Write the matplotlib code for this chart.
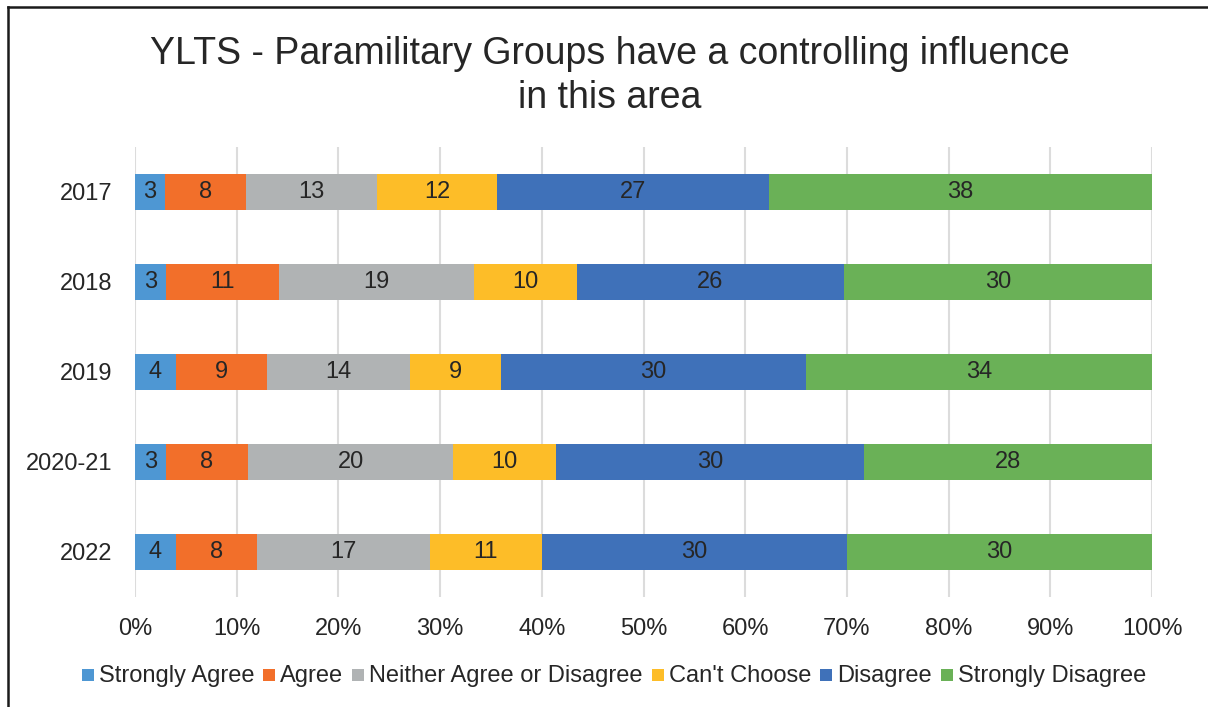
import matplotlib.pyplot as plt
import numpy as np
from matplotlib.lines import Line2D
from matplotlib.patches import Rectangle

plt.rcParams["font.family"] = ["Liberation Sans", "DejaVu Sans"]

# Survey responses (counts / percentages as printed on the bars)
years = ["2017", "2018", "2019", "2020-21", "2022"]
categories = ["Strongly Agree", "Agree", "Neither Agree or Disagree",
              "Can't Choose", "Disagree", "Strongly Disagree"]
strongly_agree = [3, 3, 4, 3, 4]
agree = [8, 11, 9, 8, 8]
neither = [13, 19, 14, 20, 17]
cant_choose = [12, 10, 9, 10, 11]
disagree = [27, 26, 30, 30, 30]
strongly_disagree = [38, 30, 34, 28, 30]

colors = ["#4E97D3", "#F26F2A", "#B0B3B4", "#FDBD28", "#3F71B9", "#6AB157"]
text_color = "#262626"

series = np.array([strongly_agree, agree, neither, cant_choose,
                   disagree, strongly_disagree], dtype=float)
shares = series / series.sum(axis=0)  # 100% stacked

W, H = 1208, 707
fig = plt.figure(figsize=(W / 100, H / 100), dpi=100)
fig.patch.set_facecolor("white")
ax = fig.add_axes([135 / W, 1 - 597 / H, 1017 / W, 450 / H])

y = np.arange(len(years))
left = np.zeros(len(years))
for i, cat in enumerate(categories):
    bars = ax.barh(y, shares[i], left=left, height=0.4, color=colors[i],
                   label=cat, zorder=3)
    ax.bar_label(bars, labels=[f"{int(v)}" for v in series[i]],
                 label_type="center", fontsize=17, color=text_color)
    left += shares[i]

ax.set_xlim(0, 1)
ax.set_ylim(len(years) - 0.5, -0.5)
ax.set_yticks(y)
ax.set_yticklabels(years)
ax.set_xticks(np.linspace(0, 1, 11))
ax.set_xticklabels([f"{int(round(t * 100))}%" for t in np.linspace(0, 1, 11)])
ax.tick_params(axis="both", length=0, labelsize=17, colors=text_color)
ax.tick_params(axis="y", pad=16)
ax.tick_params(axis="x", pad=15)
ax.grid(axis="x", color="#DCDCDC", linewidth=1.5, zorder=0)
for s in ax.spines.values():
    s.set_visible(False)

fig.text(0.505, 1 - 76 / H,
         "YLTS - Paramilitary Groups have a controlling influence\nin this area",
         ha="center", va="center", fontsize=27, color=text_color, linespacing=1.3)

# legend laid out by hand so all labels share one baseline
renderer = fig.canvas.get_renderer()
sq, sq_gap, item_gap = 12, 5, 9
base_y = 682  # baseline in pixels from top
texts = []
for cat in categories:
    t = fig.text(0, 1 - base_y / H, cat, fontsize=17, color=text_color,
                 ha="left", va="baseline")
    texts.append(t)
widths = [t.get_window_extent(renderer).width for t in texts]
total = sum(widths) + len(categories) * (sq + sq_gap) + (len(categories) - 1) * item_gap
x = 614 - total / 2
for t, w, c in zip(texts, widths, colors):
    fig.add_artist(Rectangle((x / W, 1 - (base_y - 1) / H), sq / W, sq / H,
                             transform=fig.transFigure, facecolor=c,
                             edgecolor="none"))
    x += sq + sq_gap
    t.set_x(x / W)
    x += w + item_gap

# chart border (cropped: only top and left edges visible)
fig.add_artist(Line2D([8 / W, 1], [1 - 7 / H, 1 - 7 / H],
                      color="#1a1a1a", linewidth=1.8))
fig.add_artist(Line2D([8 / W, 8 / W], [0, 1 - 7 / H],
                      color="#1a1a1a", linewidth=1.8))

fig.savefig("out.png", dpi=100)
